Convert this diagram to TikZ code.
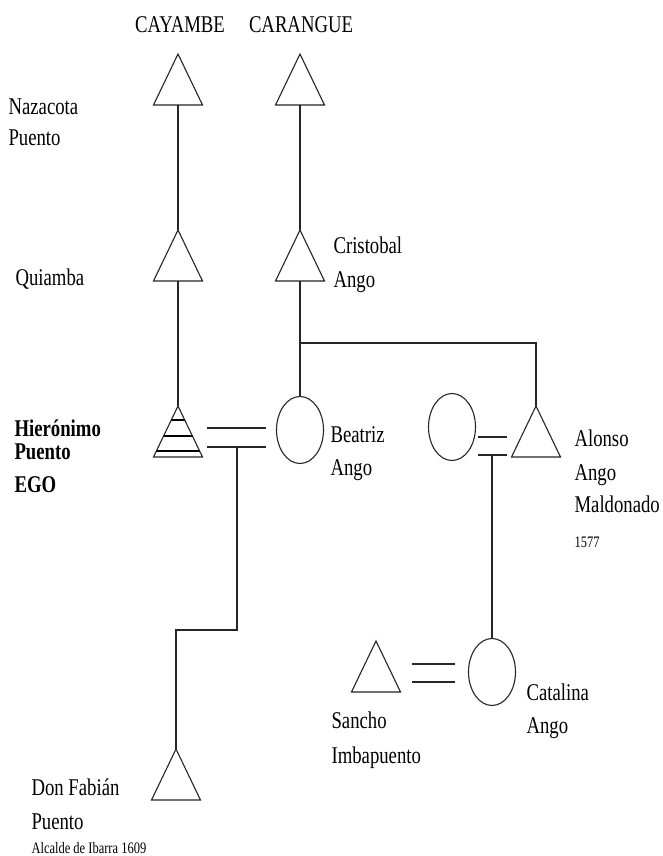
\documentclass[tikz,border=0pt]{standalone}
\usepackage{fontspec}
\setmainfont{Liberation Serif}[FakeStretch=0.78]
\usetikzlibrary{shapes.geometric}
\newcommand\kintri[3]{%
  \coordinate (#1-t) at (#2,#3);
  \coordinate (#1-b) at (#2,#3+51);
  \draw[tri] (#1-t) -- ++(24.5,51) -- ++(-49,0) -- cycle;}
\begin{document}
\begin{tikzpicture}[x=1pt,y=-1pt, line width=1.1pt, line join=miter,
  tri/.style={draw=black!85},
  lbl/.style={anchor=base west, inner sep=0, font=\fontsize{24}{24}\selectfont},
  blbl/.style={lbl, font=\fontsize{24}{24}\selectfont\bfseries},
  ttl/.style={anchor=base, inner sep=0, font=\fontsize{24}{24}\selectfont},
  sml/.style={anchor=base west, inner sep=0, font=\fontsize{16}{16}\selectfont},
  fem/.style={ellipse, draw=black!85, minimum width=47pt, minimum height=67pt, inner sep=0},
  conn/.style={draw=black!85}]
\useasboundingbox[fill=white] (0,0) rectangle (662,856);

% titles
\node[ttl] (cay) at (180,33) {CAYAMBE};
\node[ttl] (cara) at (301,33) {CARANGUE};

% triangles (males)
\kintri{naz}{178}{54}
\kintri{car}{300}{54}
\kintri{qui}{178}{230}
\kintri{cri}{300}{230}
\kintri{ego}{178}{406}
\kintri{alo}{536}{406}
\kintri{fab}{176}{749}
\kintri{san}{376}{641}

% EGO stripes
\begin{scope}
  \clip (ego-t) -- ++(24.5,51) -- ++(-49,0) -- cycle;
  \foreach \yy in {420,436,451} \draw[line width=2.4pt] (140,\yy) -- (215,\yy);
\end{scope}

% circles (females)
\node[fem] (bea) at (300,430) {};
\node[fem] (wif) at (452,427) {};
\node[fem] (cat) at (492,672) {};

% descent lines
\draw[conn] (naz-b) -- (qui-t);
\draw[conn] (car-b) -- (cri-t);
\draw[conn] (qui-b) -- (ego-t);
\coordinate (sib) at (300,343);
\draw[conn] (cri-b) -- (bea.north);
\draw[conn] (sib) -| (alo-t);

% marriage EGO = Beatriz
\coordinate (m1a) at (207,428); \coordinate (m1b) at (266,428);
\coordinate (m2a) at (207,447); \coordinate (m2b) at (266,447);
\draw[conn] (m1a) -- (m1b);
\draw[conn] (m2a) -- (m2b);
\coordinate (d1) at (237,447);
\coordinate (stp) at (237,630);
\draw[conn] (d1) -- (stp) -| (fab-t);

% marriage wife = Alonso
\coordinate (m3a) at (478,437); \coordinate (m3b) at (507,437);
\coordinate (m4a) at (478,455); \coordinate (m4b) at (507,455);
\draw[conn] (m3a) -- (m3b);
\draw[conn] (m4a) -- (m4b);
\coordinate (d2) at (492,455);
\draw[conn] (d2) -- (cat.north);

% marriage Sancho = Catalina
\coordinate (m5a) at (412,664); \coordinate (m5b) at (455,664);
\coordinate (m6a) at (412,682); \coordinate (m6b) at (455,682);
\draw[conn] (m5a) -- (m5b);
\draw[conn] (m6a) -- (m6b);

% labels
\node[lbl] (l1) at (8,114) {Nazacota};
\node[lbl] (l2) at (8,146) {Puento};
\node[lbl] (l3) at (15,285) {Quiamba};
\node[lbl] (l4) at (333,253) {Cristobal};
\node[lbl] (l5) at (333,287) {Ango};
\node[blbl] (l6) at (14,436) {Hierónimo};
\node[blbl] (l7) at (14,459) {Puento};
\node[blbl] (l8) at (14,492) {EGO};
\node[lbl] (l9) at (330,442) {Beatriz};
\node[lbl] (l10) at (330,475) {Ango};
\node[lbl] (l11) at (574,446) {Alonso};
\node[lbl] (l12) at (574,480) {Ango};
\node[lbl] (l13) at (574,512) {Maldonado};
\node[sml] (l14) at (574,547) {1577};
\node[lbl] (l15) at (331,728) {Sancho};
\node[lbl] (l16) at (331,763) {Imbapuento};
\node[lbl] (l17) at (526,700) {Catalina};
\node[lbl] (l18) at (526,733) {Ango};
\node[lbl] (l19) at (31,795) {Don Fabián};
\node[lbl] (l20) at (31,829) {Puento};
\node[sml] (l21) at (31,853) {Alcalde de Ibarra 1609};
\end{tikzpicture}
\end{document}
